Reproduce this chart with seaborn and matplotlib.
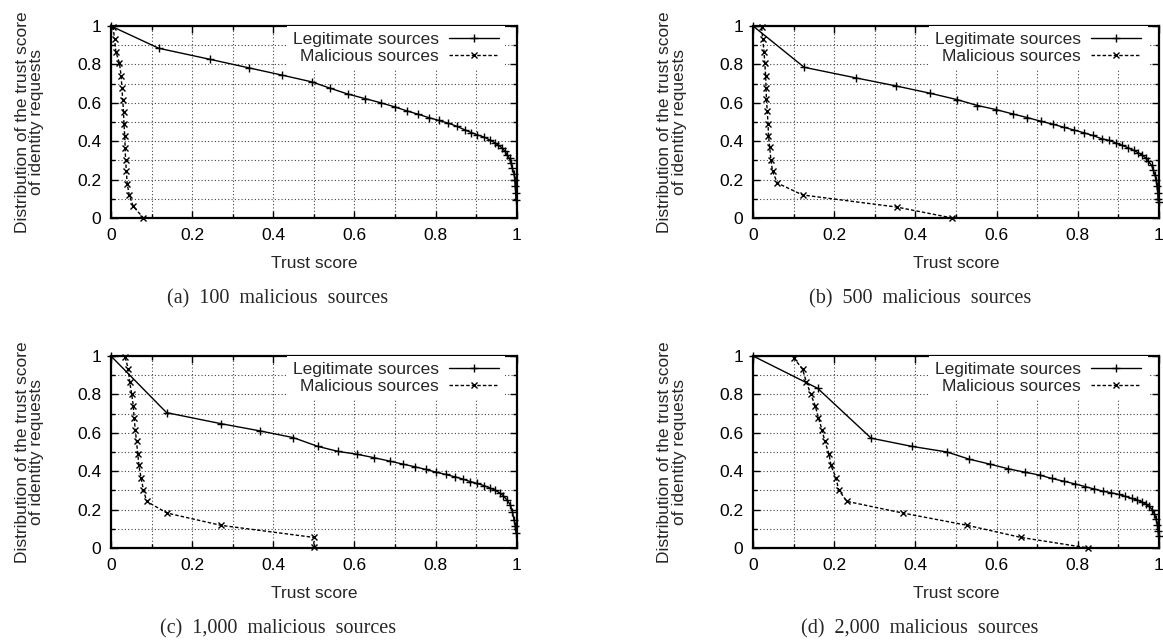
import matplotlib
matplotlib.use("Agg")
import matplotlib.pyplot as plt
from matplotlib.ticker import MultipleLocator, FuncFormatter
import seaborn as sns

# panel (a): 100 malicious sources
legit_a_x = [0, 0.118, 0.243, 0.34, 0.422, 0.495, 0.54, 0.583, 0.626, 0.665, 0.699, 0.729,
             0.756, 0.783, 0.808, 0.831, 0.853, 0.872, 0.888, 0.903, 0.92, 0.933, 0.945,
             0.954, 0.964, 0.971, 0.976, 0.982, 0.985, 0.989, 0.993, 0.995, 0.996, 0.997, 0.998]
legit_a_y = [1.0, 0.884, 0.827, 0.782, 0.744, 0.709, 0.676, 0.646, 0.622, 0.60, 0.579, 0.558,
             0.541, 0.523, 0.508, 0.494, 0.477, 0.459, 0.445, 0.433, 0.421, 0.407, 0.393,
             0.38, 0.364, 0.347, 0.329, 0.31, 0.286, 0.26, 0.23, 0.2, 0.165, 0.13, 0.095]
mal_a_x = [0.005, 0.009, 0.012, 0.021, 0.025, 0.027, 0.029, 0.031, 0.032, 0.034, 0.035,
           0.036, 0.038, 0.04, 0.045, 0.055, 0.08]
mal_a_y = [0.997, 0.931, 0.867, 0.806, 0.742, 0.679, 0.615, 0.553, 0.49, 0.428, 0.365,
           0.303, 0.243, 0.179, 0.12, 0.061, 0.0]

# panel (b): 500 malicious sources
legit_b_x = [0, 0.126, 0.253, 0.352, 0.436, 0.502, 0.553, 0.598, 0.64, 0.676, 0.709, 0.738,
             0.765, 0.791, 0.815, 0.837, 0.86, 0.878, 0.895, 0.91, 0.924, 0.938, 0.949,
             0.958, 0.967, 0.974, 0.982, 0.986, 0.99, 0.993, 0.995, 0.997, 0.998, 0.999]
legit_b_y = [1.0, 0.785, 0.73, 0.688, 0.65, 0.617, 0.586, 0.565, 0.542, 0.523, 0.504, 0.489,
             0.473, 0.458, 0.444, 0.43, 0.412, 0.404, 0.39, 0.378, 0.366, 0.352, 0.34,
             0.328, 0.314, 0.295, 0.274, 0.251, 0.225, 0.2, 0.165, 0.13, 0.1, 0.085]
mal_b_x = [0.021, 0.024, 0.027, 0.029, 0.031, 0.032, 0.033, 0.035, 0.037, 0.038, 0.041,
           0.044, 0.048, 0.06, 0.122, 0.354, 0.491]
mal_b_y = [0.993, 0.931, 0.867, 0.806, 0.742, 0.679, 0.619, 0.555, 0.49, 0.428, 0.369,
           0.303, 0.243, 0.182, 0.12, 0.057, 0.0]

# panel (c): 1,000 malicious sources
legit_c_x = [0, 0.137, 0.27, 0.367, 0.449, 0.51, 0.56, 0.607, 0.649, 0.688, 0.719, 0.749,
             0.776, 0.801, 0.825, 0.847, 0.867, 0.885, 0.903, 0.92, 0.933, 0.947, 0.958,
             0.967, 0.976, 0.984, 0.989, 0.993, 0.996, 0.998]
legit_c_y = [1.0, 0.705, 0.648, 0.61, 0.575, 0.529, 0.503, 0.488, 0.47, 0.452, 0.437, 0.423,
             0.409, 0.395, 0.383, 0.371, 0.359, 0.346, 0.336, 0.324, 0.313, 0.301, 0.287,
             0.272, 0.249, 0.225, 0.19, 0.147, 0.113, 0.078]
mal_c_x = [0.035, 0.043, 0.046, 0.051, 0.055, 0.057, 0.06, 0.063, 0.066, 0.069, 0.074,
           0.08, 0.088, 0.138, 0.271, 0.5, 0.5]
mal_c_y = [0.993, 0.931, 0.867, 0.802, 0.742, 0.679, 0.615, 0.555, 0.49, 0.43, 0.367,
           0.303, 0.243, 0.182, 0.118, 0.055, 0.003]

# panel (d): 2,000 malicious sources
legit_d_x = [0, 0.159, 0.291, 0.392, 0.478, 0.532, 0.583, 0.628, 0.669, 0.706, 0.736, 0.765,
             0.793, 0.818, 0.841, 0.862, 0.882, 0.901, 0.917, 0.933, 0.947, 0.958, 0.967,
             0.976, 0.983, 0.989, 0.993, 0.996, 0.998, 0.999]
legit_d_y = [1.0, 0.832, 0.572, 0.529, 0.5, 0.463, 0.437, 0.413, 0.395, 0.38, 0.362, 0.348,
             0.334, 0.32, 0.307, 0.296, 0.288, 0.279, 0.269, 0.258, 0.25, 0.239, 0.229,
             0.217, 0.2, 0.177, 0.151, 0.121, 0.087, 0.06]
mal_d_x = [0.1, 0.122, 0.131, 0.142, 0.153, 0.161, 0.17, 0.177, 0.187, 0.192, 0.204,
           0.211, 0.231, 0.369, 0.528, 0.66, 0.826]
mal_d_y = [0.991, 0.931, 0.867, 0.802, 0.742, 0.679, 0.615, 0.555, 0.49, 0.43, 0.367,
           0.303, 0.243, 0.182, 0.118, 0.055, 0.0]

captions = ["(a)  100  malicious  sources", "(b)  500  malicious  sources",
            "(c)  1,000  malicious  sources", "(d)  2,000  malicious  sources"]
series_names = ["Legitimate sources", "Malicious sources"]

sns.set_theme(style="white")
plt.rcParams["font.family"] = ["Liberation Sans", "DejaVu Sans"]
plt.rcParams["font.size"] = 12.5
FS = 12.5


def draw_panel(ax, lx, ly, mx, my):
    """one gnuplot-like panel"""
    sns.lineplot(x=lx, y=ly, ax=ax, color="black", lw=1.0, marker="+", ms=6, mew=1.0,
                 mec="black", estimator=None, sort=False, label=series_names[0],
                 clip_on=False)
    sns.lineplot(x=mx, y=my, ax=ax, color="black", lw=1.0, marker="x", ms=4.5, mew=1.0,
                 mec="black", estimator=None, sort=False, label=series_names[1],
                 clip_on=False)
    ax.lines[1].set_dashes((2.5, 1.5))
    ax.set_xlim(0, 1)
    ax.set_ylim(0, 1)
    ax.xaxis.set_major_locator(MultipleLocator(0.2))
    ax.yaxis.set_major_locator(MultipleLocator(0.2))
    ax.xaxis.set_minor_locator(MultipleLocator(0.1))
    ax.yaxis.set_minor_locator(MultipleLocator(0.1))
    fmt = FuncFormatter(lambda v, p: "%g" % round(v, 2))
    ax.xaxis.set_major_formatter(fmt)
    ax.yaxis.set_major_formatter(fmt)
    ax.tick_params(which="both", direction="in", top=True, right=True, bottom=True,
                   left=True, colors="black", labelsize=FS, pad=7)
    ax.tick_params(which="major", length=5, width=1)
    ax.tick_params(which="minor", length=3, width=1)
    ax.grid(True, which="both", color="#444444", linestyle=(0, (1, 2)), lw=0.8)
    ax.set_axisbelow(True)
    for sp in ax.spines.values():
        sp.set_visible(True)
        sp.set_color("black")
        sp.set_linewidth(1.6)
    ax.set_xlabel("Trust score", fontsize=FS, va="center")
    ax.xaxis.set_label_coords(0.5, -0.237)
    ax.set_ylabel("Distribution of the trust score\nof identity requests", fontsize=FS,
                  va="center", linespacing=0.95)
    ax.yaxis.set_label_coords(-0.2, 0.5)
    leg = ax.legend(loc="upper right", bbox_to_anchor=(0.972, 1.0), markerfirst=False,
                    fontsize=FS, handlelength=2.9, handletextpad=0.6, labelspacing=0.1,
                    borderpad=0.35, borderaxespad=0, frameon=True, fancybox=False,
                    framealpha=1, edgecolor="none", facecolor="white")
    leg.set_zorder(5)


fig = plt.figure(figsize=(11.63, 6.41), dpi=100)
panels = [(legit_a_x, legit_a_y, mal_a_x, mal_a_y), (legit_b_x, legit_b_y, mal_b_x, mal_b_y),
          (legit_c_x, legit_c_y, mal_c_x, mal_c_y), (legit_d_x, legit_d_y, mal_d_x, mal_d_y)]
positions = [[0.0954, 0.6599, 0.349, 0.2995], [0.6475, 0.6599, 0.349, 0.2995],
             [0.0954, 0.1451, 0.349, 0.2995], [0.6475, 0.1451, 0.349, 0.2995]]
cap_pos = [(0.239, 0.5335), (0.791, 0.5335), (0.239, 0.0187), (0.791, 0.0187)]

for pos, data, cap, cp in zip(positions, panels, captions, cap_pos):
    ax = fig.add_axes(pos)
    draw_panel(ax, *data)
    fig.text(cp[0], cp[1], cap, ha="center", va="center", fontsize=14.5,
             family=["Liberation Serif", "DejaVu Serif"])

fig.savefig("out.png", dpi=100)
